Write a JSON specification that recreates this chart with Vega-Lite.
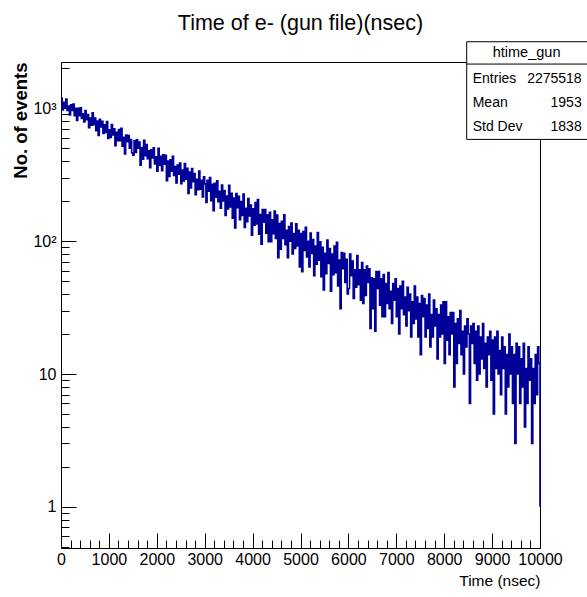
{
  "$schema": "https://vega.github.io/schema/vega-lite/v6.json",
  "width": 479,
  "height": 486,
  "autosize": {"type": "none"},
  "padding": {"left": 61, "top": 62, "right": 47, "bottom": 49},
  "background": "white",
  "title": {
    "text": "Time of e- (gun file)(nsec)",
    "font": "Liberation Sans",
    "fontSize": 21.5,
    "fontWeight": "normal",
    "color": "black",
    "anchor": "middle",
    "frame": "group",
    "baseline": "alphabetic",
    "offset": -10
  },
  "config": {
    "view": {"stroke": "black", "strokeWidth": 1},
    "axis": {"grid": false, "domainColor": "black", "tickColor": "black", "labelColor": "black", "titleColor": "black"}
  },
  "layer": [
    {
      "data": {"values": [
{"t":0,"n":1194},{"t":25,"n":973},{"t":50,"n":1112},{"t":75,"n":1005},{"t":100,"n":1176},{"t":125,"n":964},{"t":150,"n":1041},{"t":175,"n":894},{"t":200,"n":1063},{"t":225,"n":965},{"t":250,"n":1077},{"t":275,"n":881},{"t":300,"n":1002},{"t":325,"n":810},{"t":350,"n":1000},{"t":375,"n":881},{"t":400,"n":1012},{"t":425,"n":839},{"t":450,"n":912},{"t":475,"n":790},
{"t":500,"n":961},{"t":525,"n":821},{"t":550,"n":900},{"t":575,"n":714},{"t":600,"n":845},{"t":625,"n":746},{"t":650,"n":927},{"t":675,"n":753},{"t":700,"n":846},{"t":725,"n":678},{"t":750,"n":802},{"t":775,"n":625},{"t":800,"n":826},{"t":825,"n":726},{"t":850,"n":798},{"t":875,"n":647},{"t":900,"n":752},{"t":925,"n":659},{"t":950,"n":797},{"t":975,"n":594},
{"t":1000,"n":690},{"t":1025,"n":603},{"t":1050,"n":757},{"t":1075,"n":632},{"t":1100,"n":701},{"t":1125,"n":523},{"t":1150,"n":661},{"t":1175,"n":571},{"t":1200,"n":694},{"t":1225,"n":570},{"t":1250,"n":709},{"t":1275,"n":518},{"t":1300,"n":606},{"t":1325,"n":453},{"t":1350,"n":631},{"t":1375,"n":560},{"t":1400,"n":623},{"t":1425,"n":501},{"t":1450,"n":582},{"t":1475,"n":461},
{"t":1500,"n":445},{"t":1525,"n":569},{"t":1550,"n":466},{"t":1575,"n":580},{"t":1600,"n":502},{"t":1625,"n":558},{"t":1650,"n":373},{"t":1675,"n":508},{"t":1700,"n":414},{"t":1725,"n":576},{"t":1750,"n":440},{"t":1775,"n":535},{"t":1800,"n":417},{"t":1825,"n":479},{"t":1850,"n":358},{"t":1875,"n":487},{"t":1900,"n":423},{"t":1925,"n":505},{"t":1950,"n":381},{"t":1975,"n":432},
{"t":2000,"n":337},{"t":2025,"n":501},{"t":2050,"n":372},{"t":2075,"n":435},{"t":2100,"n":339},{"t":2125,"n":447},{"t":2150,"n":380},{"t":2175,"n":444},{"t":2200,"n":285},{"t":2225,"n":401},{"t":2250,"n":307},{"t":2275,"n":410},{"t":2300,"n":336},{"t":2325,"n":436},{"t":2350,"n":312},{"t":2375,"n":364},{"t":2400,"n":275},{"t":2425,"n":374},{"t":2450,"n":319},{"t":2475,"n":387},
{"t":2500,"n":271},{"t":2525,"n":344},{"t":2550,"n":284},{"t":2575,"n":385},{"t":2600,"n":293},{"t":2625,"n":354},{"t":2650,"n":229},{"t":2675,"n":332},{"t":2700,"n":252},{"t":2725,"n":352},{"t":2750,"n":280},{"t":2775,"n":323},{"t":2800,"n":224},{"t":2825,"n":292},{"t":2850,"n":244},{"t":2875,"n":337},{"t":2900,"n":246},{"t":2925,"n":287},{"t":2950,"n":215},{"t":2975,"n":305},
{"t":3000,"n":270},{"t":3025,"n":196},{"t":3050,"n":288},{"t":3075,"n":238},{"t":3100,"n":301},{"t":3125,"n":202},{"t":3150,"n":268},{"t":3175,"n":170},{"t":3200,"n":273},{"t":3225,"n":214},{"t":3250,"n":285},{"t":3275,"n":198},{"t":3300,"n":238},{"t":3325,"n":177},{"t":3350,"n":265},{"t":3375,"n":201},{"t":3400,"n":241},{"t":3425,"n":156},{"t":3450,"n":219},{"t":3475,"n":175},
{"t":3500,"n":263},{"t":3525,"n":181},{"t":3550,"n":229},{"t":3575,"n":149},{"t":3600,"n":211},{"t":3625,"n":126},{"t":3650,"n":228},{"t":3675,"n":179},{"t":3700,"n":218},{"t":3725,"n":145},{"t":3750,"n":199},{"t":3775,"n":156},{"t":3800,"n":226},{"t":3825,"n":127},{"t":3850,"n":177},{"t":3875,"n":140},{"t":3900,"n":209},{"t":3925,"n":155},{"t":3950,"n":187},{"t":3975,"n":111},
{"t":4000,"n":175},{"t":4025,"n":132},{"t":4050,"n":195},{"t":4075,"n":135},{"t":4100,"n":206},{"t":4125,"n":113},{"t":4150,"n":159},{"t":4175,"n":95},{"t":4200,"n":173},{"t":4225,"n":139},{"t":4250,"n":173},{"t":4275,"n":115},{"t":4300,"n":157},{"t":4325,"n":99},{"t":4350,"n":165},{"t":4375,"n":99},{"t":4400,"n":145},{"t":4425,"n":114},{"t":4450,"n":169},{"t":4475,"n":105},
{"t":4500,"n":157},{"t":4525,"n":75},{"t":4550,"n":136},{"t":4575,"n":87},{"t":4600,"n":141},{"t":4625,"n":105},{"t":4650,"n":158},{"t":4675,"n":94},{"t":4700,"n":121},{"t":4725,"n":75},{"t":4750,"n":129},{"t":4775,"n":100},{"t":4800,"n":137},{"t":4825,"n":80},{"t":4850,"n":114},{"t":4875,"n":88},{"t":4900,"n":135},{"t":4925,"n":92},{"t":4950,"n":121},{"t":4975,"n":64},
{"t":5000,"n":114},{"t":5025,"n":59},{"t":5050,"n":118},{"t":5075,"n":85},{"t":5100,"n":127},{"t":5125,"n":76},{"t":5150,"n":100},{"t":5175,"n":64},{"t":5200,"n":115},{"t":5225,"n":81},{"t":5250,"n":103},{"t":5275,"n":55},{"t":5300,"n":92},{"t":5325,"n":67},{"t":5350,"n":116},{"t":5375,"n":72},{"t":5400,"n":99},{"t":5425,"n":54},{"t":5450,"n":90},{"t":5475,"n":43},
{"t":5500,"n":81},{"t":5525,"n":57},{"t":5550,"n":102},{"t":5575,"n":68},{"t":5600,"n":88},{"t":5625,"n":42},{"t":5650,"n":80},{"t":5675,"n":56},{"t":5700,"n":92},{"t":5725,"n":58},{"t":5750,"n":98},{"t":5775,"n":46},{"t":5800,"n":72},{"t":5825,"n":31},{"t":5850,"n":82},{"t":5875,"n":62},{"t":5900,"n":81},{"t":5925,"n":49},{"t":5950,"n":73},{"t":5975,"n":40},
{"t":6000,"n":44},{"t":6025,"n":80},{"t":6050,"n":55},{"t":6075,"n":71},{"t":6100,"n":37},{"t":6125,"n":61},{"t":6150,"n":45},{"t":6175,"n":78},{"t":6200,"n":47},{"t":6225,"n":61},{"t":6250,"n":36},{"t":6275,"n":69},{"t":6300,"n":34},{"t":6325,"n":61},{"t":6350,"n":39},{"t":6375,"n":65},{"t":6400,"n":49},{"t":6425,"n":62},{"t":6450,"n":22},{"t":6475,"n":53},
{"t":6500,"n":31},{"t":6525,"n":52},{"t":6550,"n":21},{"t":6575,"n":59},{"t":6600,"n":44},{"t":6625,"n":59},{"t":6650,"n":33},{"t":6675,"n":52},{"t":6700,"n":27},{"t":6725,"n":56},{"t":6750,"n":27},{"t":6775,"n":48},{"t":6800,"n":34},{"t":6825,"n":58},{"t":6850,"n":31},{"t":6875,"n":42},{"t":6900,"n":24},{"t":6925,"n":48},{"t":6950,"n":36},{"t":6975,"n":52},
{"t":7000,"n":27},{"t":7025,"n":44},{"t":7050,"n":20},{"t":7075,"n":46},{"t":7100,"n":31},{"t":7125,"n":50},{"t":7150,"n":28},{"t":7175,"n":38},{"t":7200,"n":23},{"t":7225,"n":45},{"t":7250,"n":30},{"t":7275,"n":40},{"t":7300,"n":19},{"t":7325,"n":35},{"t":7350,"n":24},{"t":7375,"n":46},{"t":7400,"n":26},{"t":7425,"n":38},{"t":7450,"n":19},{"t":7475,"n":34},
{"t":7500,"n":14},{"t":7525,"n":39},{"t":7550,"n":27},{"t":7575,"n":37},{"t":7600,"n":19},{"t":7625,"n":33},{"t":7650,"n":22},{"t":7675,"n":40},{"t":7700,"n":16},{"t":7725,"n":28},{"t":7750,"n":19},{"t":7775,"n":36},{"t":7800,"n":23},{"t":7825,"n":31},{"t":7850,"n":13},{"t":7875,"n":28},{"t":7900,"n":19},{"t":7925,"n":33},{"t":7950,"n":20},{"t":7975,"n":35},
{"t":8000,"n":12},{"t":8025,"n":35},{"t":8050,"n":18},{"t":8075,"n":27},{"t":8100,"n":14},{"t":8125,"n":29},{"t":8150,"n":20},{"t":8175,"n":29},{"t":8200,"n":8},{"t":8225,"n":24},{"t":8250,"n":12},{"t":8275,"n":26},{"t":8300,"n":17},{"t":8325,"n":30},{"t":8350,"n":14},{"t":8375,"n":21},{"t":8400,"n":10},{"t":8425,"n":23},{"t":8450,"n":16},{"t":8475,"n":26},
{"t":8500,"n":20},{"t":8525,"n":6},{"t":8550,"n":23},{"t":8575,"n":17},{"t":8600,"n":24},{"t":8625,"n":12},{"t":8650,"n":21},{"t":8675,"n":9},{"t":8700,"n":23},{"t":8725,"n":10},{"t":8750,"n":19},{"t":8775,"n":13},{"t":8800,"n":24},{"t":8825,"n":11},{"t":8850,"n":17},{"t":8875,"n":8},{"t":8900,"n":19},{"t":8925,"n":14},{"t":8950,"n":21},{"t":8975,"n":9},
{"t":9000,"n":18},{"t":9025,"n":5},{"t":9050,"n":19},{"t":9075,"n":11},{"t":9100,"n":21},{"t":9125,"n":10},{"t":9150,"n":15},{"t":9175,"n":7},{"t":9200,"n":19},{"t":9225,"n":11},{"t":9250,"n":16},{"t":9275,"n":5},{"t":9300,"n":14},{"t":9325,"n":8},{"t":9350,"n":20},{"t":9375,"n":10},{"t":9400,"n":16},{"t":9425,"n":6},{"t":9450,"n":14},{"t":9475,"n":3},
{"t":9500,"n":17},{"t":9525,"n":10},{"t":9550,"n":16},{"t":9575,"n":6},{"t":9600,"n":13},{"t":9625,"n":8},{"t":9650,"n":17},{"t":9675,"n":4},{"t":9700,"n":11},{"t":9725,"n":6},{"t":9750,"n":16},{"t":9775,"n":9},{"t":9800,"n":13},{"t":9825,"n":3},{"t":9850,"n":11},{"t":9875,"n":6},{"t":9900,"n":14},{"t":9925,"n":7},{"t":9950,"n":16},{"t":9975,"n":12},
{"t":10000,"n":1}
      ]},
      "mark": {"type": "line", "interpolate": "step-after", "color": "#000099", "strokeWidth": 1.6},
      "encoding": {
        "x": {
          "field": "t", "type": "quantitative",
          "scale": {"domain": [0, 10000], "nice": false, "zero": false},
          "axis": {
            "values": [0,200,400,600,800,1000,1200,1400,1600,1800,2000,2200,2400,2600,2800,3000,3200,3400,3600,3800,4000,4200,4400,4600,4800,5000,5200,5400,5600,5800,6000,6200,6400,6600,6800,7000,7200,7400,7600,7800,8000,8200,8400,8600,8800,9000,9200,9400,9600,9800,10000],
            "tickCount": 200,
            "format": "d",
            "labelExpr": "datum.value % 1000 == 0 ? datum.label : ''",
            "tickSize": {"condition": {"test": "datum.value % 1000 == 0", "value": -15}, "value": -8},
            "labelPadding": 18,
            "labelFont": "Liberation Sans",
            "labelFontSize": 16,
            "labelFlush": false,
            "labelOverlap": false,
            "labelBound": false,
            "title": "Time (nsec)",
            "titleFont": "Liberation Sans",
            "titleFontSize": 15.5,
            "titleFontWeight": "normal",
            "titleX": 479,
            "titleY": 37,
            "titleAlign": "right",
            "titleAnchor": "end",
            "titleBaseline": "alphabetic"
          }
        },
        "y": {
          "field": "n", "type": "quantitative",
          "scale": {"type": "log", "domain": [0.49, 2234], "nice": false},
          "axis": {
            "values": [0.5,0.6,0.7,0.8,0.9,1,2,3,4,5,6,7,8,9,10,20,30,40,50,60,70,80,90,100,200,300,400,500,600,700,800,900,1000,2000],
            "tickCount": 200,
            "labelExpr": "datum.value == 1 ? '1' : datum.value == 10 ? '10' : datum.value == 100 ? '10²' : datum.value == 1000 ? '10³' : ''",
            "tickSize": {"condition": {"test": "datum.value == 1 || datum.value == 10 || datum.value == 100 || datum.value == 1000", "value": -15}, "value": -8},
            "labelPadding": 20,
            "labelFont": "Liberation Sans",
            "labelFontSize": 16,
            "labelFlush": false,
            "labelOverlap": false,
            "labelBound": false,
            "title": "No. of events",
            "titleFont": "Liberation Sans",
            "titleFontSize": 18.5,
            "titleFontWeight": "bold",
            "titleAngle": -90,
            "titleX": -35,
            "titleY": 0,
            "titleAlign": "right",
            "titleBaseline": "alphabetic"
          }
        }
      }
    },
    {
      "data": {"values": [{"name": "htime_gun"}]},
      "layer": [
        {
          "mark": {"type": "rect", "fill": "white", "stroke": "black", "strokeWidth": 1},
          "encoding": {
            "x": {"datum": 8470, "type": "quantitative"},
            "x2": {"datum": 11000},
            "y": {"datum": 584, "type": "quantitative"},
            "y2": {"datum": 3174}
          }
        },
        {
          "mark": {"type": "rule", "color": "black", "strokeWidth": 1},
          "encoding": {
            "x": {"datum": 8470, "type": "quantitative"},
            "x2": {"datum": 11000},
            "y": {"datum": 2156, "type": "quantitative"}
          }
        },
        {
          "mark": {"type": "text", "align": "center", "baseline": "middle", "font": "Liberation Sans", "fontSize": 14.5, "color": "black"},
          "encoding": {
            "x": {"datum": 9720, "type": "quantitative"},
            "y": {"datum": 2609, "type": "quantitative"},
            "text": {"field": "name"}
          }
        }
      ]
    },
    {
      "data": {"values": [{"k": "Entries", "v": "2275518"}]},
      "encoding": {"y": {"datum": 1662, "type": "quantitative"}},
      "layer": [
        {"mark": {"type": "text", "align": "left", "baseline": "middle", "font": "Liberation Sans", "fontSize": 14, "color": "black"},
         "encoding": {"x": {"datum": 8595, "type": "quantitative"}, "text": {"field": "k"}}},
        {"mark": {"type": "text", "align": "right", "baseline": "middle", "font": "Liberation Sans", "fontSize": 14, "color": "black"},
         "encoding": {"x": {"datum": 10870, "type": "quantitative"}, "text": {"field": "v"}}}
      ]
    },
    {
      "data": {"values": [{"k": "Mean", "v": "1953"}]},
      "encoding": {"y": {"datum": 1096, "type": "quantitative"}},
      "layer": [
        {"mark": {"type": "text", "align": "left", "baseline": "middle", "font": "Liberation Sans", "fontSize": 14, "color": "black"},
         "encoding": {"x": {"datum": 8595, "type": "quantitative"}, "text": {"field": "k"}}},
        {"mark": {"type": "text", "align": "right", "baseline": "middle", "font": "Liberation Sans", "fontSize": 14, "color": "black"},
         "encoding": {"x": {"datum": 10870, "type": "quantitative"}, "text": {"field": "v"}}}
      ]
    },
    {
      "data": {"values": [{"k": "Std Dev", "v": "1838"}]},
      "encoding": {"y": {"datum": 723, "type": "quantitative"}},
      "layer": [
        {"mark": {"type": "text", "align": "left", "baseline": "middle", "font": "Liberation Sans", "fontSize": 14, "color": "black"},
         "encoding": {"x": {"datum": 8595, "type": "quantitative"}, "text": {"field": "k"}}},
        {"mark": {"type": "text", "align": "right", "baseline": "middle", "font": "Liberation Sans", "fontSize": 14, "color": "black"},
         "encoding": {"x": {"datum": 10870, "type": "quantitative"}, "text": {"field": "v"}}}
      ]
    }
  ]
}
